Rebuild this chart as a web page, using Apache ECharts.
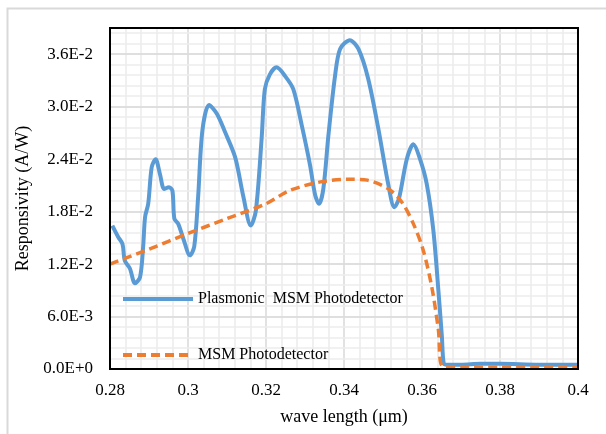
<!DOCTYPE html>
<html>
<head>
<meta charset="utf-8">
<script src="https://cdn.jsdelivr.net/npm/echarts@6/dist/echarts.min.js"></script>
<style>
html,body{margin:0;padding:0;background:#fff;}
#chart{width:606px;height:434px;}
</style>
</head>
<body>
<div id="chart"></div>
<script>
var seriesNames = ['Plasmonic  MSM Photodetector', 'MSM Photodetector'];
var xTicks = [0.28, 0.3, 0.32, 0.34, 0.36, 0.38, 0.4];

var plasmonicX = [0.2806, 0.2821, 0.2832, 0.2838, 0.2851, 0.2864, 0.2877, 0.2885, 0.2890, 0.2898, 0.2907, 0.2917, 0.2928, 0.2939, 0.2951, 0.2960, 0.2965, 0.2975, 0.2988, 0.3005, 0.3016, 0.3026, 0.3037, 0.3054, 0.3074, 0.3095, 0.3121, 0.3142, 0.3161, 0.3174, 0.3189, 0.3197, 0.3210, 0.3227, 0.3249, 0.3270, 0.3292, 0.3313, 0.3326, 0.3336, 0.3347, 0.3360, 0.3377, 0.3390, 0.3415, 0.3437, 0.3462, 0.3488, 0.3514, 0.3529, 0.3541, 0.3561, 0.3578, 0.3595, 0.3612, 0.3629, 0.3642, 0.3651, 0.3656, 0.3665, 0.370, 0.375, 0.380, 0.390, 0.400];
var plasmonicY = [0.0164, 0.0151, 0.0143, 0.0124, 0.0115, 0.0098, 0.0105, 0.0140, 0.0174, 0.0189, 0.0231, 0.0240, 0.0223, 0.0206, 0.0208, 0.0204, 0.0172, 0.0166, 0.0149, 0.0130, 0.0140, 0.0197, 0.0273, 0.0302, 0.0292, 0.0271, 0.0242, 0.0197, 0.0164, 0.0181, 0.0265, 0.0320, 0.0337, 0.0345, 0.0335, 0.0320, 0.0278, 0.0233, 0.0199, 0.0189, 0.0206, 0.0267, 0.0335, 0.0366, 0.0376, 0.0366, 0.0332, 0.0275, 0.0210, 0.0185, 0.0195, 0.0240, 0.0257, 0.0240, 0.0212, 0.0159, 0.0090, 0.0037, 0.0006, 0.0005, 0.0005, 0.0006, 0.0006, 0.0005, 0.0005];

var msmX = [0.280, 0.290, 0.300, 0.310, 0.320, 0.326, 0.334, 0.342, 0.346, 0.3514, 0.3548, 0.3578, 0.3603, 0.3625, 0.3642, 0.3653, 0.370, 0.380, 0.390, 0.400];
var msmY = [0.0120, 0.0137, 0.0155, 0.0172, 0.0189, 0.0204, 0.0214, 0.0217, 0.0216, 0.0206, 0.0191, 0.0166, 0.0136, 0.0094, 0.0045, 0.0003, 0.0002, 0.0002, 0.0002, 0.0002];

function pairs(xs, ys) {
  var out = [];
  for (var i = 0; i < xs.length; i++) out.push([xs[i], ys[i]]);
  return out;
}

var chart = echarts.init(document.getElementById('chart'), null, {renderer: 'canvas'});
var font = 'Liberation Serif';
var hiddenSymbol = {color: 'rgba(0,0,0,0)', borderWidth: 0, opacity: 0};
var option = {
  animation: false,
  backgroundColor: '#ffffff',
  textStyle: {fontFamily: font},
  graphic: [{
    type: 'rect', left: 5, top: 6, z: 0,
    shape: {x: 0, y: 0, width: 700, height: 500},
    style: {fill: 'none', stroke: '#d9d9d9', lineWidth: 2}
  }],
  grid: {left: 110, top: 28, right: 28, bottom: 65, show: true, borderColor: '#000', borderWidth: 2, z: 10, containLabel: false},
  legend: [{
    data: [seriesNames[0]], left: 116, top: 286, orient: 'vertical',
    itemWidth: 70, itemHeight: 16, itemGap: 6,
    textStyle: {fontFamily: font, fontSize: 16, color: '#000'},
    itemStyle: hiddenSymbol,
    lineStyle: {width: 4}
  }, {
    data: [seriesNames[1]], left: 116, top: 342, orient: 'vertical',
    itemWidth: 70, itemHeight: 16,
    textStyle: {fontFamily: font, fontSize: 16, color: '#000'},
    itemStyle: hiddenSymbol,
    lineStyle: {width: 4, type: [9, 5]}
  }],
  xAxis: {
    type: 'value', min: 0.28, max: 0.4, interval: 0.02,
    name: 'wave length (\u03bcm)', nameLocation: 'middle', nameGap: 39,
    nameTextStyle: {fontFamily: font, fontSize: 18, color: '#000'},
    axisLine: {show: false}, axisTick: {show: false},
    axisLabel: {fontFamily: font, fontSize: 17, color: '#000', margin: 13,
      formatter: function (v) { return String(parseFloat(v.toFixed(4))); }},
    splitLine: {show: true, lineStyle: {color: '#d9d9d9', width: 1.5}},
    minorTick: {show: false, splitNumber: 5},
    minorSplitLine: {show: true, lineStyle: {color: '#ececec', width: 1.5}}
  },
  yAxis: [{
    type: 'value', min: 0, max: 0.039, interval: 0.006, z: 2,
    name: 'Responsivity (A/W)', nameLocation: 'middle', nameGap: 72,
    nameTextStyle: {fontFamily: font, fontSize: 18, color: '#000'},
    axisLine: {show: false}, axisTick: {show: false},
    axisLabel: {fontFamily: font, fontSize: 17, color: '#000', margin: 17, showMaxLabel: false,
      formatter: function (v) { return v.toExponential(1).toUpperCase(); }},
    splitLine: {show: true, lineStyle: {color: '#d9d9d9', width: 1.5}}
  }, {
    type: 'value', min: 0, max: 0.039, interval: 0.0012, position: 'left', z: 1,
    axisLine: {show: false}, axisTick: {show: false}, axisLabel: {show: false},
    splitLine: {show: true, lineStyle: {color: '#ececec', width: 1.5}}
  }],
  series: [{
    name: seriesNames[0], type: 'line', yAxisIndex: 0,
    data: pairs(plasmonicX, plasmonicY), smooth: 0.3, symbol: 'none', z: 4,
    lineStyle: {color: '#5B9BD5', width: 4}, itemStyle: {color: '#5B9BD5'}
  }, {
    name: seriesNames[1], type: 'line', yAxisIndex: 0,
    data: pairs(msmX, msmY), smooth: 0.3, symbol: 'none', z: 5,
    lineStyle: {color: '#ED7D31', width: 3.5, type: [9, 5]}, itemStyle: {color: '#ED7D31'}
  }]
};
chart.setOption(option);
</script>
</body>
</html>
